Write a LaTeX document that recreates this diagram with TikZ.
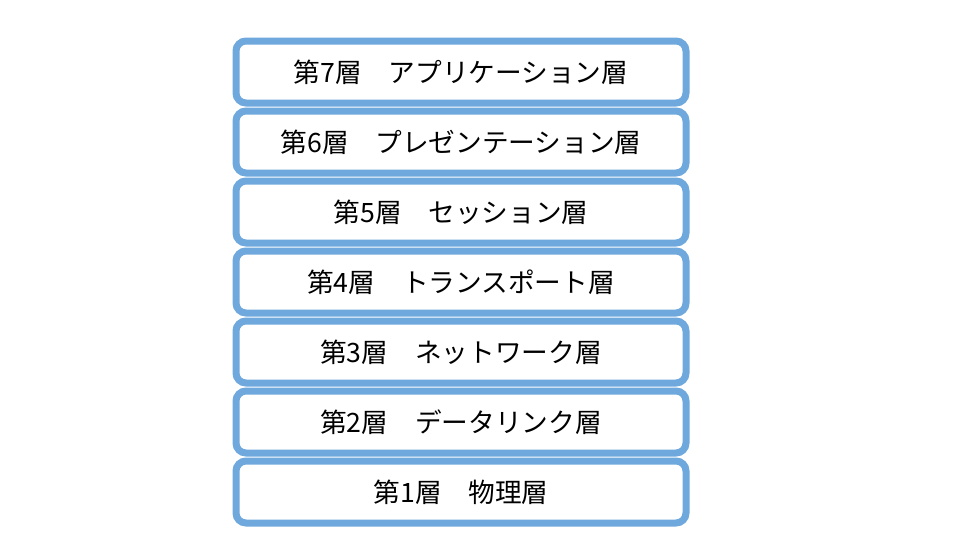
\documentclass[tikz,border=0pt]{standalone}
\usepackage{fontspec}
\setmainfont{Noto Sans CJK JP}
\definecolor{layerblue}{RGB}{111,168,220}
\tikzset{
    layer/.style={draw=layerblue,line width=5.25pt,rounded corners=7.5pt,fill=white,
        minimum width=337.5pt,minimum height=46.5pt,inner sep=0pt,
        font=\fontsize{20pt}{23pt}\selectfont}
}
\begin{document}
\begin{tikzpicture}[x=0.75pt,y=-0.75pt]
    \useasboundingbox (0,0) rectangle (960,540);
    \node[layer] (l7) at (461,72) {第7層　アプリケーション層};
    \node[layer] (l6) at (461,142) {第6層　プレゼンテーション層};
    \node[layer] (l5) at (461,212) {第5層　セッション層};
    \node[layer] (l4) at (461,282) {第4層　トランスポート層};
    \node[layer] (l3) at (461,352) {第3層　ネットワーク層};
    \node[layer] (l2) at (461,422) {第2層　データリンク層};
    \node[layer] (l1) at (461,492) {第1層　物理層};
\end{tikzpicture}
\end{document}
